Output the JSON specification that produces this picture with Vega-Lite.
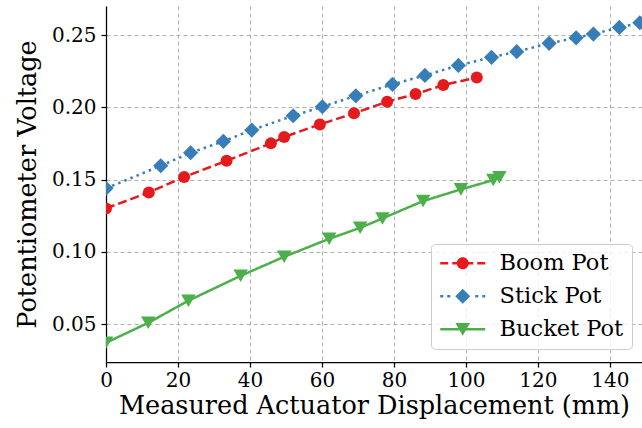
{
  "$schema": "https://vega.github.io/schema/vega-lite/v6.json",
  "width": 536,
  "height": 356,
  "autosize": {"type": "none"},
  "padding": {"left": 106, "top": 6, "right": 0, "bottom": 66},
  "background": "white",
  "config": {
    "font": "DejaVu Serif",
    "view": {"stroke": null},
    "axis": {
      "labelFont": "DejaVu Serif",
      "titleFont": "DejaVu Serif",
      "labelFontSize": 20,
      "titleFontSize": 25.5,
      "titleFontWeight": "normal",
      "labelColor": "black",
      "titleColor": "black",
      "domainColor": "black",
      "domainWidth": 1.25,
      "tickColor": "black",
      "tickWidth": 1.25,
      "tickSize": 5,
      "gridColor": "#b0b0b0",
      "gridDash": [4, 3],
      "gridWidth": 1
    }
  },
  "data": {
    "values": [
      {"series": "Boom Pot", "x": 0, "y": 0.1301},
      {"series": "Boom Pot", "x": 11.9, "y": 0.1412},
      {"series": "Boom Pot", "x": 21.7, "y": 0.1518},
      {"series": "Boom Pot", "x": 33.5, "y": 0.1631},
      {"series": "Boom Pot", "x": 45.8, "y": 0.1751},
      {"series": "Boom Pot", "x": 49.5, "y": 0.1795},
      {"series": "Boom Pot", "x": 59.4, "y": 0.1882},
      {"series": "Boom Pot", "x": 68.9, "y": 0.1959},
      {"series": "Boom Pot", "x": 78.1, "y": 0.2039},
      {"series": "Boom Pot", "x": 86.0, "y": 0.2092},
      {"series": "Boom Pot", "x": 93.7, "y": 0.2154},
      {"series": "Boom Pot", "x": 103.0, "y": 0.2207},
      {"series": "Stick Pot", "x": 0, "y": 0.144},
      {"series": "Stick Pot", "x": 15.2, "y": 0.1596},
      {"series": "Stick Pot", "x": 23.5, "y": 0.1686},
      {"series": "Stick Pot", "x": 32.6, "y": 0.1765},
      {"series": "Stick Pot", "x": 40.5, "y": 0.1843},
      {"series": "Stick Pot", "x": 52.0, "y": 0.1942},
      {"series": "Stick Pot", "x": 60.1, "y": 0.2004},
      {"series": "Stick Pot", "x": 69.4, "y": 0.208},
      {"series": "Stick Pot", "x": 79.6, "y": 0.2159},
      {"series": "Stick Pot", "x": 88.6, "y": 0.2221},
      {"series": "Stick Pot", "x": 97.9, "y": 0.229},
      {"series": "Stick Pot", "x": 107.1, "y": 0.2346},
      {"series": "Stick Pot", "x": 114.1, "y": 0.2385},
      {"series": "Stick Pot", "x": 123.1, "y": 0.2443},
      {"series": "Stick Pot", "x": 130.6, "y": 0.2481},
      {"series": "Stick Pot", "x": 135.4, "y": 0.2507},
      {"series": "Stick Pot", "x": 142.6, "y": 0.2553},
      {"series": "Stick Pot", "x": 148.3, "y": 0.2585},
      {"series": "Bucket Pot", "x": 0, "y": 0.0372},
      {"series": "Bucket Pot", "x": 11.75, "y": 0.051},
      {"series": "Bucket Pot", "x": 22.9, "y": 0.0663},
      {"series": "Bucket Pot", "x": 37.4, "y": 0.0835},
      {"series": "Bucket Pot", "x": 49.5, "y": 0.0967},
      {"series": "Bucket Pot", "x": 62.0, "y": 0.1091},
      {"series": "Bucket Pot", "x": 70.6, "y": 0.1167},
      {"series": "Bucket Pot", "x": 76.8, "y": 0.1232},
      {"series": "Bucket Pot", "x": 88.1, "y": 0.1352},
      {"series": "Bucket Pot", "x": 98.6, "y": 0.1433},
      {"series": "Bucket Pot", "x": 107.6, "y": 0.1497},
      {"series": "Bucket Pot", "x": 109.3, "y": 0.1516}
    ]
  },
  "encoding": {
    "x": {
      "field": "x",
      "type": "quantitative",
      "scale": {"domain": [0, 148.9], "nice": false, "zero": false},
      "axis": {
        "title": "Measured Actuator Displacement (mm)",
        "values": [0, 20, 40, 60, 80, 100, 120, 140],
        "labelPadding": 3,
        "titlePadding": 3,
        "labelFlush": false
      }
    },
    "y": {
      "field": "y",
      "type": "quantitative",
      "scale": {"domain": [0.0239, 0.2701], "nice": false, "zero": false},
      "axis": {
        "title": "Potentiometer Voltage",
        "values": [0.05, 0.1, 0.15, 0.2, 0.25],
        "format": ".2f",
        "labelPadding": 5,
        "titlePadding": 11,
        "labelFlush": false
      }
    },
    "color": {
      "field": "series",
      "type": "nominal",
      "scale": {
        "domain": ["Boom Pot", "Stick Pot", "Bucket Pot"],
        "range": ["#e41a1c", "#377eb8", "#4daf4a"]
      },
      "legend": {
        "title": null,
        "orient": "none",
        "legendX": 325,
        "legendY": 238,
        "padding": 8,
        "symbolSize": 4,
        "symbolStrokeWidth": 0,
        "symbolOpacity": 1,
        "labelFont": "DejaVu Serif",
        "labelFontSize": 22.5,
        "labelColor": "black",
        "labelOffset": 38,
        "rowPadding": 10,
        "strokeColor": "#cccccc",
        "fillColor": "rgba(255,255,255,0.8)",
        "cornerRadius": 4,
        "encode": {
          "symbols": {
            "update": {
              "shape": {
                "signal": "datum.value === 'Boom Pot' ? 'M-10,-1.25 H-2 V1.25 H-10 Z M2,-1.25 H10 V1.25 H2 Z M15,-1.25 H23 V1.25 H15 Z M27,-1.25 H35 V1.25 H27 Z M18.5,0 A6,6 0 1,1 6.5,0 A6,6 0 1,1 18.5,0 Z' : datum.value === 'Stick Pot' ? 'M-10,-1.25 H-7 V1.25 H-10 Z M-3,-1.25 H0 V1.25 H-3 Z M25,-1.25 H28 V1.25 H25 Z M32,-1.25 H35 V1.25 H32 Z M5,0 L12.5,-7.5 L20,0 L12.5,7.5 Z' : 'M-10,-1.25 H35 V1.25 H-10 Z M5.2,-6.2 L19.8,-6.2 L12.5,6.5 Z'"
              },
              "fill": {"scale": "color", "field": "value"},
              "strokeWidth": {"value": 0}
            }
          }
        }
      }
    }
  },
  "layer": [
    {
      "mark": {"type": "line", "strokeWidth": 2.5, "clip": true},
      "encoding": {
        "strokeDash": {
          "field": "series",
          "type": "nominal",
          "scale": {
            "domain": ["Boom Pot", "Stick Pot", "Bucket Pot"],
            "range": [[9, 4], [2.5, 4.1], [1, 0]]
          },
          "legend": null
        }
      }
    },
    {
      "transform": [{"filter": "datum.series === 'Boom Pot'"}],
      "mark": {"type": "point", "shape": "circle", "filled": true, "opacity": 1, "size": 144, "clip": true}
    },
    {
      "transform": [{"filter": "datum.series === 'Stick Pot'"}],
      "mark": {"type": "point", "shape": "diamond", "filled": true, "opacity": 1, "size": 230, "clip": true}
    },
    {
      "transform": [{"filter": "datum.series === 'Bucket Pot'"}],
      "mark": {"type": "point", "shape": "triangle-down", "filled": true, "opacity": 1, "size": 210, "clip": true}
    }
  ]
}
